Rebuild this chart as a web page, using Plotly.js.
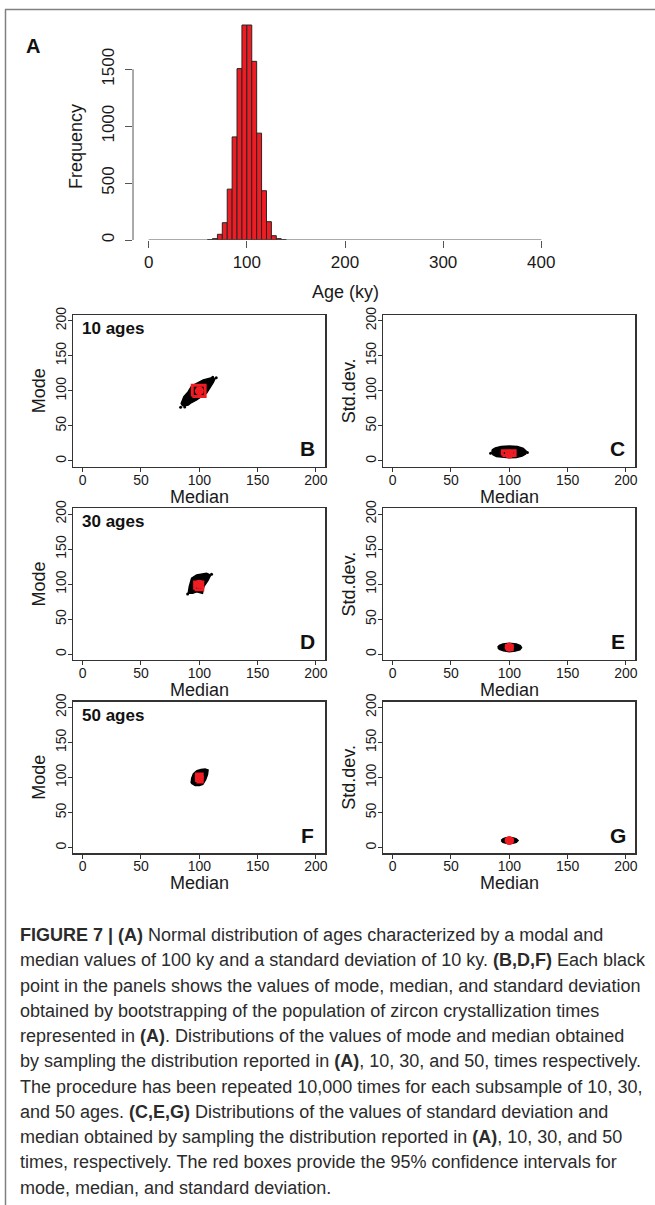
<!DOCTYPE html>
<html>
<head>
<meta charset="utf-8">
<script src="https://cdn.plot.ly/plotly-3.0.1.min.js"></script>
<style>
  html, body { margin: 0; padding: 0; background: #fff; }
  #chart { width: 655px; height: 1205px; }
</style>
</head>
<body>
<div id="chart"></div>
<script>
// ---------------- DATA ----------------
// Panel A: histogram of ages (bin left edges in ky, bin width 5 ky)
const histBinLeft = [60, 65, 70, 75, 80, 85, 90, 95, 100, 105, 110, 115, 120, 125, 130, 135];
const histCounts  = [3, 12, 50, 152, 447, 906, 1506, 1889, 1889, 1570, 939, 433, 161, 38, 12, 3];
const histBinWidth = 5;
const histXTicks = [0, 100, 200, 300, 400];
const histYTicks = [0, 500, 1000, 1500];
const scatterTicks = [0, 50, 100, 150, 200];

// Panel B (10 ages): outline of the cloud of bootstrap points (median, mode)
const bHullMedian = [85.7, 84.5, 86.8, 90.5, 93.4, 98.0, 103.4, 110.5, 113.4, 112.0, 110.5, 106.2, 102.0, 97.7, 93.0, 90.5];
const bHullMode   = [78.4, 82.0, 91.7, 98.8, 106.9, 111.0, 115.5, 118.7, 116.9, 112.0, 108.3, 96.5, 92.0, 87.0, 83.0, 79.8];
const bOutMedian = [84.0, 87.5, 114.5, 111.5];
const bOutMode   = [76.5, 77.0, 118.5, 119.5];
const bMedianCI = [94, 105];
const bModeCI   = [92, 108];

// Panel C (10 ages): (median, std.dev.)
const cHullMedian = [85.0, 86.0, 89.0, 95.0, 100.0, 106.0, 111.0, 114.0, 114.5, 112.0, 107.0, 100.0, 93.0, 88.0, 85.5];
const cHullSd     = [13.0, 9.0, 6.5, 5.0, 4.5, 5.0, 7.0, 10.0, 14.0, 18.0, 20.5, 21.5, 20.5, 18.5, 16.0];
const cOutMedian = [84.0, 115.5];
const cOutSd     = [11.0, 12.0];
const cMedianCI = [94, 105];
const cSdCI     = [8, 14.5];

// Panel D (30 ages): (median, mode)
const dHullMedian = [90.5, 91.4, 93.4, 97.7, 106.2, 109.7, 107.6, 103.9, 102.7, 97.7, 94.3];
const dHullMode   = [87.0, 96.4, 108.3, 113.0, 115.5, 113.0, 105.9, 96.4, 87.0, 89.2, 87.0];
const dOutMedian = [90.0, 110.5];
const dOutMode   = [86.0, 114.0];
const dMedianCI = [96, 103];
const dModeCI   = [92, 103];

// Panel E (30 ages): (median, std.dev.)
const eHullMedian = [90.0, 91.5, 95.0, 100.0, 105.0, 109.0, 110.5, 109.5, 106.0, 100.0, 94.5, 91.5];
const eHullSd     = [10.0, 7.0, 5.0, 3.7, 4.5, 6.5, 9.5, 12.5, 14.8, 15.7, 14.8, 12.8];
const eMedianCI = [97.5, 102.5];
const eSdCI     = [7, 12.5];

// Panel F (50 ages): (median, mode)
const fHullMedian = [93.0, 93.5, 95.0, 98.0, 101.5, 105.0, 107.5, 107.0, 105.5, 103.0, 100.0, 96.5];
const fHullMode   = [92.0, 99.0, 105.5, 109.5, 111.5, 112.0, 110.5, 104.0, 97.0, 90.0, 88.5, 88.5];
const fMedianCI = [97.5, 102.5];
const fModeCI   = [93.5, 105];

// Panel G (50 ages): (median, std.dev.)
const gHullMedian = [93.0, 94.5, 97.5, 100.0, 103.0, 106.0, 107.5, 106.0, 103.0, 100.0, 97.0, 94.5];
const gHullSd     = [10.0, 7.5, 6.0, 5.5, 6.0, 7.5, 10.0, 12.5, 14.0, 14.5, 14.0, 12.5];
const gMedianCI = [97.5, 102.5];
const gSdCI     = [8, 12];

const centerMedian = 100;
const centerMode = 100;
const centerSd = 10;

const agesLabels = ['10 ages', '30 ages', '50 ages'];
const panelLetters = ['B', 'C', 'D', 'E', 'F', 'G'];

const captionLines = [
  '<b>FIGURE 7 | (A)</b> Normal distribution of ages characterized by a modal and',
  'median values of 100 ky and a standard deviation of 10 ky. <b>(B,D,F)</b> Each black',
  'point in the panels shows the values of mode, median, and standard deviation',
  'obtained by bootstrapping of the population of zircon crystallization times',
  'represented in <b>(A)</b>. Distributions of the values of mode and median obtained',
  'by sampling the distribution reported in <b>(A)</b>, 10, 30, and 50, times respectively.',
  'The procedure has been repeated 10,000 times for each subsample of 10, 30,',
  'and 50 ages. <b>(C,E,G)</b> Distributions of the values of standard deviation and',
  'median obtained by sampling the distribution reported in <b>(A)</b>, 10, 30, and 50',
  'times, respectively. The red boxes provide the 95% confidence intervals for',
  'mode, median, and standard deviation.'
];

// ---------------- LAYOUT HELPERS ----------------
const W = 655, H = 1205;
const FONT = 'Liberation Sans, Arial, Helvetica, sans-serif';
const dx = px => px / W;
const dy = py => 1 - py / H;

const RED = '#f01c24';
const AXC = '#333333';

const data = [];
const annotations = [];
const shapes = [];
const layout = {
  width: W, height: H,
  margin: {l: 0, r: 0, t: 0, b: 0},
  paper_bgcolor: '#ffffff',
  plot_bgcolor: 'rgba(0,0,0,0)',
  showlegend: false,
  font: {family: FONT, color: '#1a1a1a'},
  annotations, shapes
};

// ---------- Panel A ----------
const A = {left: 133, right: 557, top: 12.4, bottom: 240};
data.push({
  type: 'bar', x: histBinLeft, y: histCounts, width: histBinWidth, offset: 0,
  marker: {color: RED, line: {color: '#262626', width: 1}},
  xaxis: 'x', yaxis: 'y', hoverinfo: 'skip'
});
layout.xaxis = {
  domain: [dx(A.left), dx(A.right)], range: [-16, 416], anchor: 'y',
  tickvals: histXTicks, ticktext: histXTicks.map(String),
  ticks: 'outside', ticklen: 7, tickcolor: '#555', tickwidth: 1,
  showline: false, showgrid: false, zeroline: false,
  tickfont: {family: FONT, size: 17, color: '#1a1a1a'}, fixedrange: true
};
layout.yaxis = {
  domain: [dy(A.bottom), dy(A.top)], range: [0, 2000], anchor: 'x',
  tickvals: histYTicks, ticktext: histYTicks.map(String), tickangle: -90,
  ticks: 'outside', ticklen: 7, tickcolor: '#555', tickwidth: 1,
  ticklabelstandoff: 4,
  showline: false, showgrid: false, zeroline: false,
  tickfont: {family: FONT, size: 17, color: '#1a1a1a'}, fixedrange: true
};
// axis lines spanning first to last tick (R style)
shapes.push({type: 'line', xref: 'x', yref: 'y', x0: histXTicks[0], x1: histXTicks[histXTicks.length - 1], y0: 0, y1: 0, line: {color: '#555', width: 1}});
shapes.push({type: 'line', xref: 'paper', yref: 'y', x0: dx(A.left), x1: dx(A.left), y0: histYTicks[0], y1: histYTicks[histYTicks.length - 1], line: {color: '#555', width: 1}});
annotations.push({text: '<b>A</b>', x: dx(33), y: dy(46), xref: 'paper', yref: 'paper', xanchor: 'center', yanchor: 'middle', showarrow: false, font: {family: FONT, size: 20, color: '#111'}});
annotations.push({text: 'Frequency', x: dx(76), y: dy(147), xref: 'paper', yref: 'paper', xanchor: 'center', yanchor: 'middle', textangle: -90, showarrow: false, font: {family: FONT, size: 18, color: '#1a1a1a'}});
annotations.push({text: 'Age (ky)', x: dx(345), y: dy(292), xref: 'paper', yref: 'paper', xanchor: 'center', yanchor: 'middle', showarrow: false, font: {family: FONT, size: 18, color: '#1a1a1a'}});

// ---------- Scatter panels ----------
const rowTops = [315.1, 508.4, 701.7];
const boxH = 151.5;
const colLefts = [73.3, 383.3];
const boxW = 252;

const panels = [
  {hx: bHullMedian, hy: bHullMode, ox: bOutMedian, oy: bOutMode, cix: bMedianCI, ciy: bModeCI, cy: centerMode, ylab: 'Mode'},
  {hx: cHullMedian, hy: cHullSd, ox: cOutMedian, oy: cOutSd, cix: cMedianCI, ciy: cSdCI, cy: centerSd, ylab: 'Std.dev.'},
  {hx: dHullMedian, hy: dHullMode, ox: dOutMedian, oy: dOutMode, cix: dMedianCI, ciy: dModeCI, cy: centerMode, ylab: 'Mode'},
  {hx: eHullMedian, hy: eHullSd, ox: [], oy: [], cix: eMedianCI, ciy: eSdCI, cy: centerSd, ylab: 'Std.dev.'},
  {hx: fHullMedian, hy: fHullMode, ox: [], oy: [], cix: fMedianCI, ciy: fModeCI, cy: centerMode, ylab: 'Mode'},
  {hx: gHullMedian, hy: gHullSd, ox: [], oy: [], cix: gMedianCI, ciy: gSdCI, cy: centerSd, ylab: 'Std.dev.'}
];

panels.forEach((p, i) => {
  const n = i + 2;
  const xa = 'x' + n, ya = 'y' + n;
  const row = Math.floor(i / 2), col = i % 2;
  const left = colLefts[col], right = left + boxW;
  const top = rowTops[row], bottom = top + boxH;

  const axisCommon = {
    range: [-8, 208], tickvals: scatterTicks, ticktext: scatterTicks.map(String),
    ticks: 'outside', ticklen: 4, tickcolor: AXC, tickwidth: 1,
    showline: true, mirror: true, linecolor: AXC, linewidth: 1.3,
    showgrid: false, zeroline: false, fixedrange: true,
    tickfont: {family: FONT, size: 14, color: '#1a1a1a'}
  };
  layout['xaxis' + n] = Object.assign({}, axisCommon, {domain: [dx(left), dx(right)], anchor: ya, ticklabelstandoff: -4});
  layout['yaxis' + n] = Object.assign({}, axisCommon, {domain: [dy(bottom), dy(top)], anchor: xa, tickangle: -90, ticklabelstandoff: -4});

  // cloud of bootstrap points (outline filled)
  data.push({type: 'scatter', mode: 'lines', x: p.hx.concat([p.hx[0]]), y: p.hy.concat([p.hy[0]]),
    fill: 'toself', fillcolor: '#000', line: {color: '#000', width: 1.5}, xaxis: xa, yaxis: ya, hoverinfo: 'skip'});
  if (p.ox.length) {
    data.push({type: 'scatter', mode: 'markers', x: p.ox, y: p.oy,
      marker: {color: '#000', size: 3}, xaxis: xa, yaxis: ya, hoverinfo: 'skip'});
  }
  // 95% confidence box
  data.push({type: 'scatter', mode: 'lines',
    x: [p.cix[0], p.cix[1], p.cix[1], p.cix[0], p.cix[0]],
    y: [p.ciy[0], p.ciy[0], p.ciy[1], p.ciy[1], p.ciy[0]],
    line: {color: RED, width: 3}, xaxis: xa, yaxis: ya, hoverinfo: 'skip'});
  // central value
  data.push({type: 'scatter', mode: 'markers', x: [centerMedian], y: [p.cy],
    marker: {color: RED, size: 9}, xaxis: xa, yaxis: ya, hoverinfo: 'skip'});

  // labels
  annotations.push({text: '<b>' + panelLetters[i] + '</b>', x: dx(right - 17.5), y: dy(bottom - 18), xref: 'paper', yref: 'paper',
    xanchor: 'center', yanchor: 'middle', showarrow: false, font: {family: FONT, size: 21, color: '#111'}});
  if (col === 0) {
    annotations.push({text: '<b>' + agesLabels[row] + '</b>', x: dx(left + 7), y: dy(top + 13.5), xref: 'paper', yref: 'paper',
      xanchor: 'left', yanchor: 'middle', showarrow: false, font: {family: FONT, size: 17, color: '#111'}});
  }
  annotations.push({text: p.ylab, x: dx(left - 34), y: dy((top + bottom) / 2), xref: 'paper', yref: 'paper',
    xanchor: 'center', yanchor: 'middle', textangle: -90, showarrow: false, font: {family: FONT, size: 18, color: '#1a1a1a'}});
  annotations.push({text: 'Median', x: dx((left + right) / 2), y: dy(bottom + 30), xref: 'paper', yref: 'paper',
    xanchor: 'center', yanchor: 'middle', showarrow: false, font: {family: FONT, size: 18, color: '#1a1a1a'}});
});

// ---------- Caption ----------
const capTop = 935, capStep = 25.27;
captionLines.forEach((t, i) => {
  annotations.push({text: t, x: dx(18), y: dy(capTop + i * capStep), xref: 'paper', yref: 'paper',
    xanchor: 'left', yanchor: 'middle', align: 'left', showarrow: false,
    font: {family: FONT, size: 18, color: '#2b2b2b'}});
});

// ---------- Frame ----------
shapes.push({type: 'line', xref: 'paper', yref: 'paper', x0: dx(5), x1: dx(655), y0: dy(9.5), y1: dy(9.5), line: {color: '#808080', width: 1.5}});
shapes.push({type: 'line', xref: 'paper', yref: 'paper', x0: dx(5.5), x1: dx(5.5), y0: dy(9.5), y1: dy(1205), line: {color: '#808080', width: 1.5}});

Plotly.newPlot('chart', data, layout, {staticPlot: true, displayModeBar: false});
</script>
</body>
</html>
